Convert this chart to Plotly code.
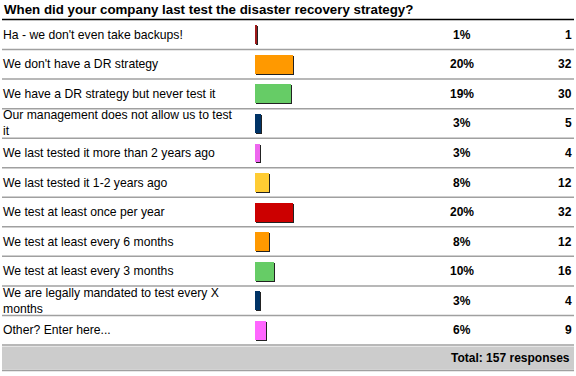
import textwrap
import plotly.graph_objects as go

title = "When did your company last test the disaster recovery strategy?"
categories = [
    "Ha - we don't even take backups!",
    "We don't have a DR strategy",
    "We have a DR strategy but never test it",
    "Our management does not allow us to test it",
    "We last tested it more than 2 years ago",
    "We last tested it 1-2 years ago",
    "We test at least once per year",
    "We test at least every 6 months",
    "We test at least every 3 months",
    "We are legally mandated to test every X months",
    "Other? Enter here...",
]
counts = [1, 32, 30, 5, 4, 12, 32, 12, 16, 4, 9]
percents = [1, 20, 19, 3, 3, 8, 20, 8, 10, 3, 6]
colors = ["#9E1A1A", "#FF9900", "#66CC66", "#003366", "#EE66EE", "#FFCC33",
          "#CC0000", "#FF9900", "#66CC66", "#003366", "#FF66FF"]
total_label = "Total: 157 responses"

W, H = 576, 376
TOP, BOTTOM = 20, 345          # pixel extent of the rows
BAR_X0 = 255                    # pixel where bars start
PX_PER_COUNT = 1.2
n = len(categories)
row_h = (BOTTOM - TOP) / n
ypx = 1 / row_h                 # one pixel in y data units
xpx = 1 / PX_PER_COUNT          # one pixel in x data units

def py(p):  # pixel y -> paper
    return 1 - p / H

def px(p):  # pixel x -> paper
    return p / W

rows = list(range(n))
fig = go.Figure()
# shadow bars (right/bottom)
fig.add_trace(go.Bar(
    y=[r + ypx for r in rows], x=counts, base=xpx, orientation="h",
    width=0.64, marker=dict(color="#222222", line=dict(width=0)),
    hoverinfo="skip", showlegend=False))
fig.add_trace(go.Bar(
    y=rows, x=counts, orientation="h", width=0.64,
    marker=dict(color=colors, line=dict(width=0)),
    showlegend=False))

ann = []
ann.append(dict(text="<b>" + title + "</b>", x=px(2), y=py(9.5), xref="paper", yref="paper",
                xanchor="left", yanchor="middle", showarrow=False,
                font=dict(size=13.3, color="#000000")))
for i, cat in enumerate(categories):
    lbl = "<br>".join(textwrap.wrap(cat, 40))
    ann.append(dict(text=lbl, x=px(1), y=i, xref="paper", yref="y",
                    xanchor="left", yanchor="middle", align="left", showarrow=False,
                    font=dict(size=12.2, color="#000000")))
    ann.append(dict(text="<b>%d%%</b>" % percents[i], x=px(462), y=i, xref="paper", yref="y",
                    xanchor="center", yanchor="middle", showarrow=False,
                    font=dict(size=12, color="#000000")))
    ann.append(dict(text="<b>%d</b>" % counts[i], x=px(574), y=i, xref="paper", yref="y",
                    xanchor="right", yanchor="middle", showarrow=False,
                    font=dict(size=12, color="#000000")))
ann.append(dict(text="<b>" + total_label + "</b>", x=px(572), y=py(358), xref="paper", yref="paper",
                xanchor="right", yanchor="middle", showarrow=False,
                font=dict(size=12, color="#000000")))

shapes = []
shapes.append(dict(type="line", xref="paper", yref="paper", x0=px(2), x1=px(574),
                   y0=py(19.5), y1=py(19.5), line=dict(color="#000000", width=1.5)))
for i in range(1, n + 1):
    yy = TOP + i * row_h
    shapes.append(dict(type="line", xref="paper", yref="paper", x0=px(2), x1=px(574),
                       y0=py(yy), y1=py(yy), line=dict(color="#A0A0A0", width=1.5)))
shapes.append(dict(type="rect", xref="paper", yref="paper", x0=px(2), x1=px(574),
                   y0=py(369.5), y1=py(346.5), fillcolor="#CCCCCC", line=dict(width=0),
                   layer="below"))
shapes.append(dict(type="line", xref="paper", yref="paper", x0=px(2), x1=px(574),
                   y0=py(370.5), y1=py(370.5), line=dict(color="#A0A0A0", width=1.5)))

fig.update_layout(
    width=W, height=H, margin=dict(l=0, r=0, t=0, b=0),
    paper_bgcolor="#FFFFFF", plot_bgcolor="rgba(0,0,0,0)",
    barmode="overlay", bargap=0,
    font=dict(family="Liberation Sans, Arial, sans-serif", size=12, color="#000000"),
    xaxis=dict(domain=[px(BAR_X0), 1], range=[0, (W - BAR_X0) / PX_PER_COUNT],
               visible=False, fixedrange=True),
    yaxis=dict(domain=[py(BOTTOM), py(TOP)], range=[n - 0.5, -0.5],
               visible=False, fixedrange=True),
    annotations=ann, shapes=shapes,
)
fig.write_html("out.html", config={"displayModeBar": False},
               post_script="document.body.style.margin='0';document.body.style.overflow='hidden';")
